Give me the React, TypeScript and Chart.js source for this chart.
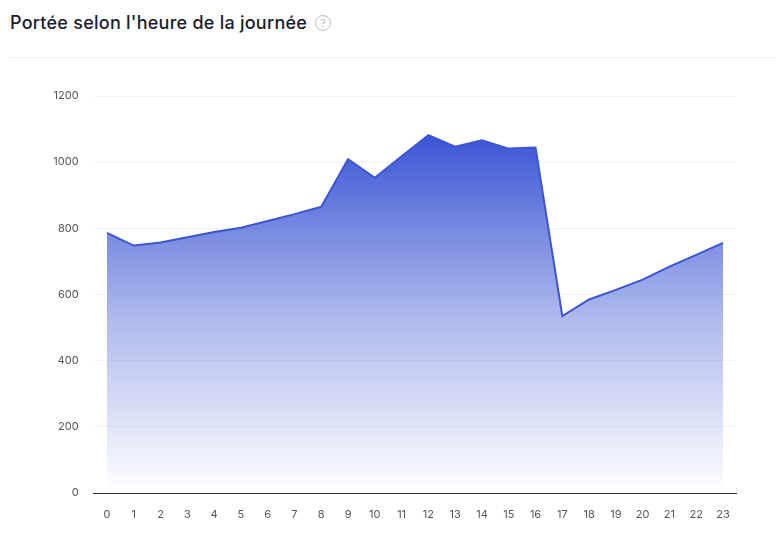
import { useEffect, useRef } from "react"
import { Chart, registerables } from "chart.js"

Chart.register(...registerables)

const hours = [
  "0", "1", "2", "3", "4", "5", "6", "7", "8", "9", "10", "11",
  "12", "13", "14", "15", "16", "17", "18", "19", "20", "21", "22", "23",
]
const reach = [
  786, 748, 757, 773, 789, 802, 822, 843, 865, 1009, 953, 1018,
  1082, 1047, 1066, 1041, 1044, 535, 585, 614, 645, 684, 720, 756,
]
const yMax = 1200
const yStep = 200

const BLUE = "rgb(59, 85, 212)"

function ReachChart() {
  const chartRef = useRef<HTMLCanvasElement>(null)
  const chartInstance = useRef<Chart | null>(null)

  useEffect(() => {
    if (!chartRef.current) return
    if (chartInstance.current) chartInstance.current.destroy()
    const ctx = chartRef.current.getContext("2d")
    if (!ctx) return

    chartInstance.current = new Chart(ctx, {
      type: "line",
      data: {
        labels: hours,
        datasets: [
          {
            data: reach,
            borderColor: BLUE,
            borderWidth: 2,
            pointRadius: 0,
            tension: 0,
            fill: "origin",
            backgroundColor: (c: any) => {
              const { chart } = c
              const area = chart.chartArea
              if (!area) return "rgba(59,85,212,0.5)"
              const y = chart.scales.y
              const top = y.getPixelForValue(Math.max(...reach))
              const g = chart.ctx.createLinearGradient(0, top, 0, area.bottom)
              g.addColorStop(0, "rgba(59,85,212,1)")
              g.addColorStop(0.5, "rgba(59,85,212,0.42)")
              g.addColorStop(1, "rgba(59,85,212,0)")
              return g
            },
          },
        ],
      },
      options: {
        animation: false,
        responsive: false,
        layout: { padding: { top: 26, right: 47.6, left: 0, bottom: 0 } },
        plugins: {
          legend: { display: false },
          tooltip: { enabled: false },
        },
        scales: {
          x: {
            offset: true,
            grid: { display: false, drawTicks: false },
            border: { display: true, color: "#333", width: 1 },
            ticks: {
              color: "#555",
              padding: 15,
              maxRotation: 0,
              autoSkip: false,
              font: { family: "Inter", size: 11 },
            },
            afterFit: (s: any) => {
              s.height = 50
            },
          },
          y: {
            min: 0,
            max: yMax,
            grid: { color: "#f2f2f2", drawTicks: false },
            border: { display: false },
            ticks: {
              stepSize: yStep,
              color: "#555",
              padding: 15,
              font: { family: "Inter", size: 11 },
              callback: (v: any) => String(v),
            },
            afterFit: (s: any) => {
              s.width = 93.6
            },
          },
        },
      },
    })

    return () => {
      if (chartInstance.current) {
        chartInstance.current.destroy()
        chartInstance.current = null
      }
    }
  }, [])

  return <canvas ref={chartRef} width={784} height={473} style={{ display: "block" }} />
}

export default function App() {
  return (
    <div
      style={{
        position: "absolute",
        left: 0,
        top: 0,
        width: 784,
        height: 543,
        background: "#fff",
        fontFamily: "Inter, sans-serif",
        overflow: "hidden",
      }}
    >
      <div
        style={{
          position: "absolute",
          left: 10,
          top: 10,
          height: 25,
          display: "flex",
          alignItems: "center",
          gap: 8,
        }}
      >
        <span style={{ fontSize: 18, fontWeight: 500, color: "#1b1b2e", letterSpacing: 0.25 }}>
          Portée selon l'heure de la journée
        </span>
        <span
          style={{
            width: 14,
            height: 14,
            borderRadius: "50%",
            border: "1px solid #bdbdbd",
            color: "#bdbdbd",
            fontSize: 11,
            lineHeight: "14px",
            textAlign: "center",
            display: "inline-block",
          }}
        >
          ?
        </span>
      </div>
      <div
        style={{
          position: "absolute",
          left: 10,
          top: 57,
          width: 765,
          height: 1,
          background: "#eeeeee",
        }}
      />
      <div style={{ position: "absolute", left: 0, top: 70 }}>
        <ReachChart />
      </div>
    </div>
  )
}
